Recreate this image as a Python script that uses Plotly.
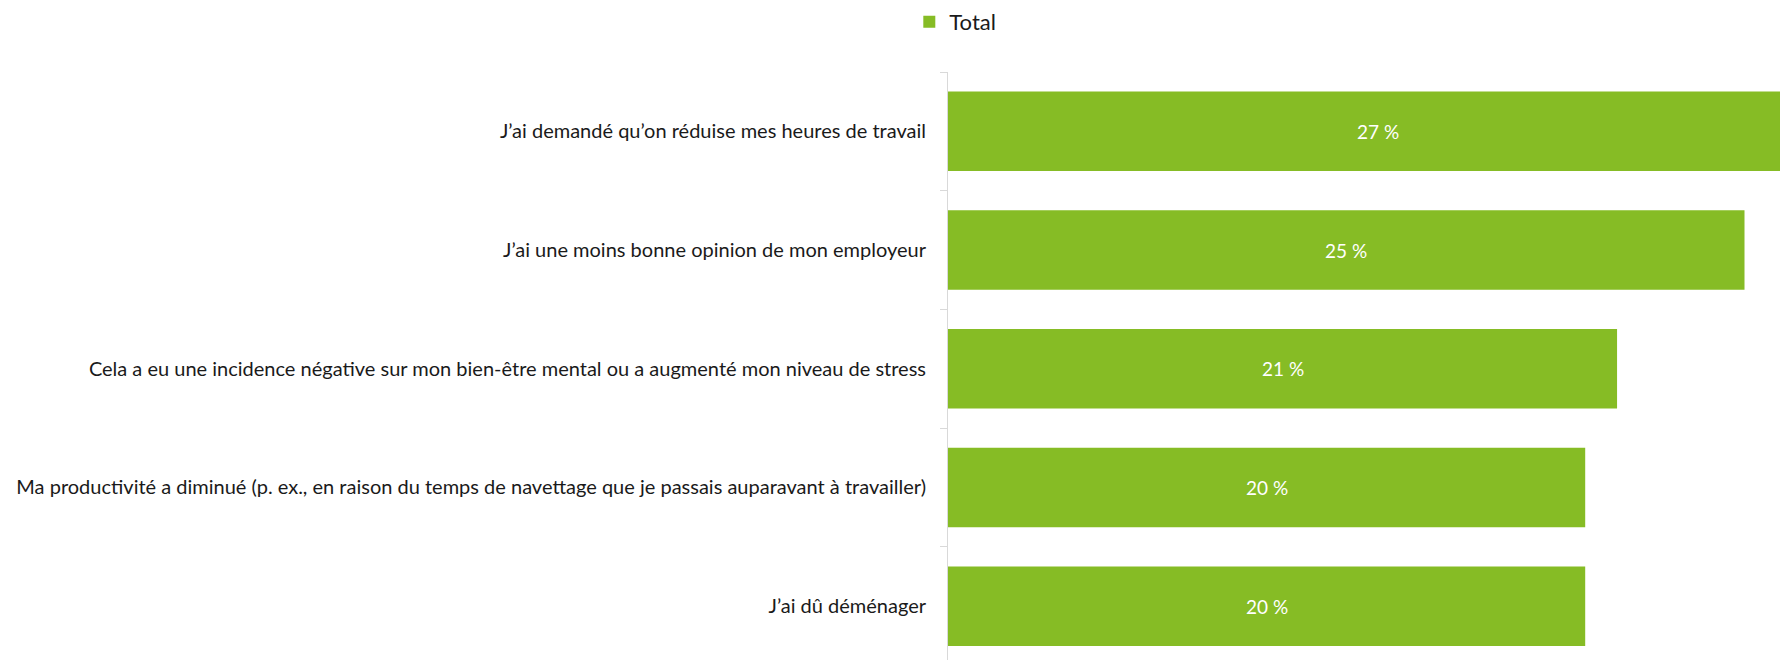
import plotly.graph_objects as go

categories = [
    "J’ai demandé qu’on réduise mes heures de travail",
    "J’ai une moins bonne opinion de mon employeur",
    "Cela a eu une incidence négative sur mon bien-être mental ou a augmenté mon niveau de stress",
    "Ma productivité a diminué (p. ex., en raison du temps de navettage que je passais auparavant à travailler)",
    "J’ai dû déménager",
]
values = [27, 25, 21, 20, 20]
series_name = "Total"

GREEN = "#86bc25"
FONT = "Lato, 'Open Sans', sans-serif"

fig = go.Figure()
fig.add_trace(go.Bar(
    x=values,
    y=categories,
    orientation="h",
    name=series_name,
    marker=dict(color=GREEN, line=dict(width=0)),
    showlegend=True,
    hoverinfo="x+y",
))

for c, v in zip(categories, values):
    fig.add_annotation(
        x=v / 2, y=c, xref="x", yref="y",
        text=f"{v} %", showarrow=False,
        font=dict(family=FONT, size=19, color="white"),
    )

# page body has an 8px margin, so the figure is sized to fill the rest
W, H = 1780, 652
ml, mt = 940, 64
fig.update_layout(
    width=W, height=H,
    margin=dict(l=ml, r=0, t=mt, b=0, pad=0, autoexpand=False),
    paper_bgcolor="white",
    plot_bgcolor="white",
    bargap=0.33,
    font=dict(family=FONT, size=20, color="#1a1a1a"),
    legend=dict(
        orientation="h",
        x=-0.0413 - 4 / (W - ml), xanchor="left",
        y=1 + (mt - 14) / (H - mt), yanchor="middle",
        font=dict(family=FONT, size=22, color="#1a1a1a"),
        bgcolor="rgba(0,0,0,0)",
    ),
    xaxis=dict(
        range=[0, (W - ml) / 31.86],
        visible=False,
        fixedrange=True,
    ),
    yaxis=dict(
        type="category",
        categoryorder="array",
        categoryarray=categories,
        range=[-0.5 + (H - mt) / 118.7, -0.5],
        showline=True,
        linecolor="#d9d9d9",
        linewidth=1,
        ticks="outside",
        tickson="boundaries",
        ticklen=7,
        tickcolor="#d9d9d9",
        tickwidth=1,
        showgrid=False,
        zeroline=False,
        automargin=False,
        ticklabelstandoff=17,
        tickfont=dict(family=FONT, size=20, color="#1a1a1a"),
        fixedrange=True,
    ),
)

fig.write_html("out.html")
